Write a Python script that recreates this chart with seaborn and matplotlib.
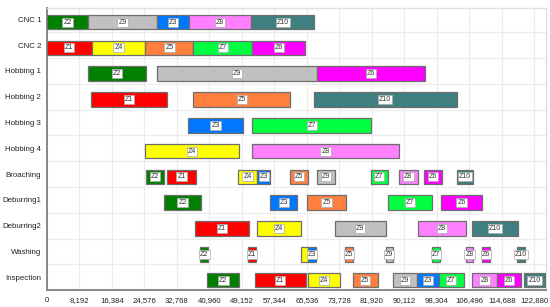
import numpy as np
import pandas as pd
import matplotlib
matplotlib.use("Agg")
import matplotlib.pyplot as plt
import seaborn as sns

# machines, top to bottom
machines = ["CNC 1", "CNC 2", "Hobbing 1", "Hobbing 2", "Hobbing 3", "Hobbing 4",
            "Broaching", "Deburring1", "Deburring2", "Washing", "Inspection"]

# one entry per operation: machine, job, start, end
op_machine = (["CNC 1"] * 5 + ["CNC 2"] * 5 + ["Hobbing 1"] * 3 + ["Hobbing 2"] * 3
              + ["Hobbing 3"] * 2 + ["Hobbing 4"] * 2 + ["Broaching"] * 10
              + ["Deburring1"] * 5 + ["Deburring2"] * 5 + ["Washing"] * 10
              + ["Inspection"] * 10)
op_job = ["Z2", "Z9", "Z3", "Z8", "Z10",
          "Z1", "Z4", "Z5", "Z7", "Z6",
          "Z2", "Z9", "Z6",
          "Z1", "Z5", "Z10",
          "Z3", "Z7",
          "Z4", "Z8",
          "Z2", "Z1", "Z4", "Z3", "Z5", "Z9", "Z7", "Z8", "Z6", "Z10",
          "Z2", "Z3", "Z5", "Z7", "Z6",
          "Z1", "Z4", "Z9", "Z8", "Z10",
          "Z2", "Z1", "Z4", "Z3", "Z5", "Z9", "Z7", "Z8", "Z6", "Z10",
          "Z2", "Z1", "Z4", "Z5", "Z9", "Z3", "Z7", "Z8", "Z6", "Z10"]
op_start = [0, 10503, 27727, 35793, 51589,
            0, 11343, 24870, 36969, 51841,
            10334, 27727, 68056,
            11175, 36969, 67216,
            35709, 51841,
            24870, 51673,
            25038, 30331, 48144, 53101, 61335, 68056, 81583, 88810, 95110, 103345,
            29491, 56293, 65536, 85952, 99227,
            37473, 53017, 72509, 93431, 107210,
            38733, 50749, 64191, 65872, 75198, 85364, 97043, 105530, 109729, 118469,
            40498, 52513, 65872, 77046, 87212, 93263, 98808, 107210, 113428, 120233]
op_end = [10503, 27727, 35793, 51589, 67300,
          11343, 24870, 36969, 51841, 65116,
          25038, 68056, 95278,
          30415, 61419, 103345,
          49404, 81667,
          48396, 88810,
          29575, 37557, 53101, 56378, 65704, 72677, 85952, 93431, 99479, 107294,
          38901, 63183, 75450, 97043, 109729,
          51001, 64191, 85448, 105614, 118637,
          40666, 52765, 65872, 67888, 77130, 87212, 98976, 107462, 111745, 120401,
          48480, 65200, 73770, 83432, 93263, 98808, 105026, 113428, 119562, 125610]

jobs = ["Z1", "Z2", "Z3", "Z4", "Z5", "Z6", "Z7", "Z8", "Z9", "Z10"]
job_colors = ["#FF0000", "#007F00", "#0077FF", "#FFFF00", "#FF7F3F",
              "#FF00FF", "#00FF40", "#FF80FF", "#C0C0C0", "#3F7F7F"]

x_ticks = [8192 * i for i in range(16)]

df = pd.DataFrame({"machine": op_machine, "job": op_job,
                   "start": op_start, "end": op_end})
df["row"] = df["machine"].map({m: i for i, m in enumerate(machines)})
df["width"] = df["end"] - df["start"]
palette = dict(zip(jobs, job_colors))

sns.set_style("whitegrid")
plt.rcParams["font.family"] = ["Liberation Sans", "DejaVu Sans"]

fig = plt.figure(figsize=(5.5, 3.07), dpi=100)
ax = fig.add_axes([0.085, 0.055, 0.907, 0.92])

# bars sit a little below the category tick
offset = 0.11
ax.barh(df["row"] + offset, df["width"], left=df["start"], height=0.57,
        color=[palette[j] for j in df["job"]], edgecolor="#6e6e6e",
        linewidth=0.9, zorder=3)

# job labels in small white boxes, skip those hidden by a neighbour
for m, g in df.groupby("row"):
    g = g.sort_values("start").reset_index(drop=True)
    centers = ((g["start"] + g["end"]) / 2).tolist()
    for i, r in g.iterrows():
        if i + 1 < len(g) and centers[i + 1] - centers[i] < 2500:
            continue
        ax.text(centers[i], r["row"] + offset, r["job"], ha="center", va="center",
                fontsize=5, color="#333333", zorder=5,
                bbox=dict(boxstyle="square,pad=0.15", fc="white",
                          ec="#aaaaaa", lw=0.5))

ax.set_xlim(0, 125700)
ax.set_ylim(len(machines) - 0.53, -0.45)
ax.set_xticks(x_ticks)
ax.set_xticklabels([f"{t:,}" for t in x_ticks], fontsize=5.6, color="#222222")
ax.set_yticks(range(len(machines)))
ax.set_yticklabels(machines, fontsize=5.7, color="#222222")
ax.set_yticks(np.arange(len(machines)) + 0.5, minor=True)

ax.grid(False)
ax.grid(axis="x", which="major", color="#ececec", lw=0.8, zorder=0)
ax.grid(axis="y", which="minor", color="#ececec", lw=0.8, zorder=0)
ax.tick_params(axis="x", which="major", length=3, width=0.8, color="#999999", pad=2)
ax.tick_params(axis="y", which="major", length=2.5, width=0.8, color="#999999", pad=1.5)
ax.tick_params(axis="y", which="minor", length=0)

for s in ["top", "right"]:
    ax.spines[s].set_color("#e0e0e0")
    ax.spines[s].set_linewidth(1.0)
for s in ["left", "bottom"]:
    ax.spines[s].set_color("#888888")
    ax.spines[s].set_linewidth(1.4)
ax.set_xlabel("")
ax.set_ylabel("")

fig.savefig("out.png", dpi=100)
